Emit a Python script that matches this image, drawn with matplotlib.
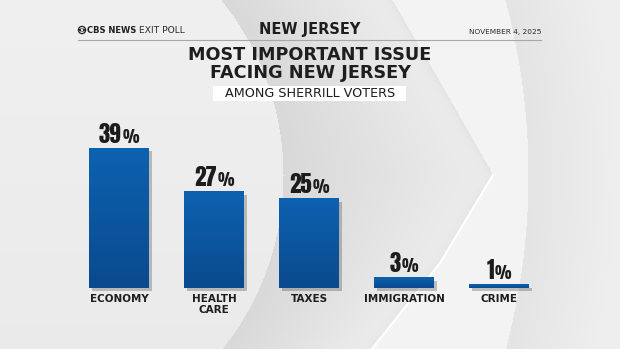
import numpy as np
import matplotlib
matplotlib.use("Agg")
import matplotlib.pyplot as plt
from matplotlib import patheffects as pe
from matplotlib.patches import Circle, Ellipse, Rectangle

# Data
issues = ["ECONOMY", "HEALTH\nCARE", "TAXES", "IMMIGRATION", "CRIME"]
shares = [39, 27, 25, 3, 1]
pct_labels = ["39", "27", "25", "3", "1"]

W, H = 620, 349
fig = plt.figure(figsize=(W / 100, H / 100), dpi=100)

# ---- background (pixel coordinates, y down) ----
bg = fig.add_axes([0, 0, 1, 1])
bg.set_xlim(0, W)
bg.set_ylim(H, 0)
bg.axis("off")

yy, xx = np.mgrid[0:H, 0:W].astype(float)
img = 0.92 + 0.02 * (1 - yy / H)
xa = 5 + np.sqrt(np.clip(278 ** 2 - (yy - 175) ** 2, 0, None))
cy = [0, 82, 175, 263, 349]
cx = [392, 440, 493, 440, 372]
xc = np.interp(yy, cy, cx)
xb = -149 + np.sqrt(np.clip(677 ** 2 - (yy - 175) ** 2, 0, None))

band = (xx > xa) & (xx < xc)
t = np.clip((xx - xa) / np.maximum(xc - xa, 1), 0, 1)
img = np.where(band, 0.85 + 0.08 * t - 0.04 * np.exp(-(xc - xx) / 6), img)
mid = (xx >= xc) & (xx < xb)
img = np.where(mid, 0.955, img)
right = xx >= xb
img = np.where(right, 0.895 + 0.04 * np.clip((xx - xb) / 90, 0, 1), img)
img = np.clip(img, 0, 1)
bg.imshow(np.dstack([img] * 3), extent=(0, W, H, 0), aspect="auto", zorder=0)
bg.plot(cx[2:], cy[2:], color="white", lw=1.6, zorder=1)

# header
bg.plot([78, 541], [40, 40], color="#a8a8a8", lw=0.8, zorder=2)
bg.add_patch(Circle((82, 30), 3.6, fill=False, ec="#222222", lw=0.9, zorder=3))
bg.add_patch(Ellipse((82, 30), 6.5, 3.2, fc="#222222", ec="none", zorder=3))
bg.add_patch(Circle((82, 30), 1.1, fc="white", ec="none", zorder=4))
bg.text(87, 30.5, "CBS NEWS", fontsize=6.0, fontweight="bold", color="#1e1e1e",
        ha="left", va="center", zorder=3)
bg.text(139, 30.5, "EXIT POLL", fontsize=6.6, color="#2a2a2a",
        ha="left", va="center", zorder=3)
bg.text(310, 29.5, "NEW JERSEY", fontsize=10.5, fontweight="bold", color="#1e1e1e",
        ha="center", va="center", zorder=3)
bg.text(541, 32, "NOVEMBER 4, 2025", fontsize=5.3, color="#2a2a2a",
        ha="right", va="center", zorder=3)

bg.text(310, 55, "MOST IMPORTANT ISSUE", fontsize=12.7, fontweight="bold",
        color="#1e1e1e", ha="center", va="center", zorder=3)
bg.text(310, 73, "FACING NEW JERSEY", fontsize=12.7, fontweight="bold",
        color="#1e1e1e", ha="center", va="center", zorder=3)
bg.add_patch(Rectangle((213, 86), 193, 15, fc="white", ec="none", zorder=2))
bg.text(310, 93.8, "AMONG SHERRILL VOTERS", fontsize=9.2, color="#1e1e1e",
        ha="center", va="center", zorder=3)

# ---- bars (data coordinates) ----
ax = fig.add_axes([0, 0, 1, 1])
ax.patch.set_visible(False)
ax.axis("off")
px_x, px_y = 95, 3.59
ax.set_xlim(-119 / px_x, (W - 119) / px_x)
ax.set_ylim(-61 / px_y, (H - 61) / px_y)

x = np.arange(len(issues))
bars = ax.bar(x, shares, width=60 / px_x, color="#0b56a0", zorder=2)
grad = np.linspace(0, 1, 100).reshape(-1, 1)
cmap = matplotlib.colors.LinearSegmentedColormap.from_list("b", ["#0a4a8e", "#0d62b0"])
for b in bars:
    b.set_path_effects([pe.SimplePatchShadow(offset=(2.5, -2.5), shadow_rgbFace="#000000", alpha=0.22),
                        pe.Normal()])
    x0, y0 = b.get_x(), b.get_y()
    im = ax.imshow(grad, cmap=cmap, aspect="auto", origin="lower",
                   extent=(x0, x0 + b.get_width(), y0, y0 + b.get_height()), zorder=3)
    im.set_clip_path(b)

pt = 72 / 100  # points per pixel
pfont = ["Anton", "DejaVu Sans"]
pairs = []
for i, (v, lab) in enumerate(zip(shares, pct_labels)):
    d = ax.annotate(lab, (i, v), xytext=(0, 5 * pt), textcoords="offset points",
                    ha="left", va="baseline", fontsize=16.5, family=pfont,
                    color="#1c1c1c", zorder=4)
    p = ax.annotate("%", (i, v), xytext=(0, 5 * pt), textcoords="offset points",
                    ha="left", va="baseline", fontsize=11.2, family=pfont,
                    color="#1c1c1c", zorder=4)
    pairs.append((d, p))
    ax.annotate(issues[i], (i, 0), xytext=(0, -6 * pt), textcoords="offset points",
                ha="center", va="top", fontsize=7.5, fontweight="bold",
                color="#1e1e1e", linespacing=1.1, zorder=4)

# centre each "NN%" group over its bar
fig.canvas.draw()
r = fig.canvas.get_renderer()
for d, p in pairs:
    wd = d.get_window_extent(r).width
    wp = p.get_window_extent(r).width
    start = -(wd + wp + 1) / 2
    d.xyann = (start * pt, 5 * pt)
    p.xyann = ((start + wd + 1) * pt, 5 * pt)

fig.savefig("out.png", dpi=100)
